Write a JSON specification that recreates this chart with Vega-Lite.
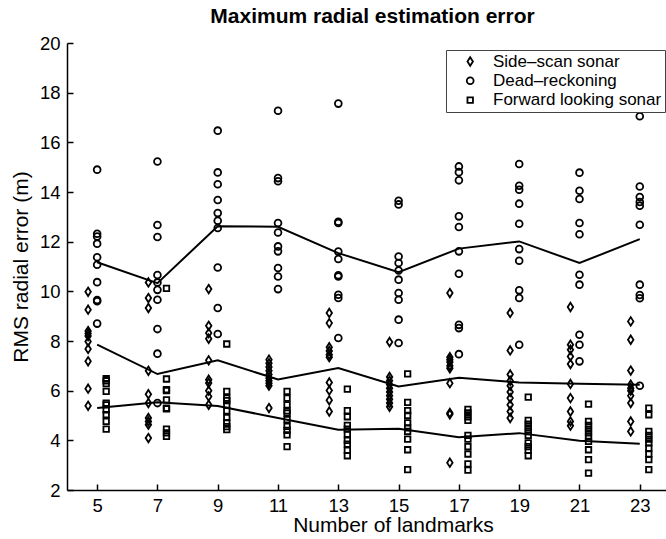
{
"$schema": "https://vega.github.io/schema/vega-lite/v6.json",
"width": 599, "height": 447,
"autosize": {"type": "none"},
"padding": {"left": 67, "top": 43, "right": 0, "bottom": 49},
"background": "white",
"config": {"view": {"stroke": null}, "font": "Liberation Sans"},
"title": {"text": "Maximum radial estimation error", "fontSize": 21, "fontWeight": "bold", "font": "Liberation Sans", "color": "black", "anchor": "middle", "offset": 7, "dx": 6},
"datasets": {
"pts": [
{"s":"SSS","x":4.7,"y":9.98},{"s":"SSS","x":4.7,"y":9.26},{"s":"SSS","x":4.7,"y":8.4},{"s":"SSS","x":4.7,"y":8.3},{"s":"SSS","x":4.7,"y":8.2},{"s":"SSS","x":4.7,"y":7.98},{"s":"SSS","x":4.7,"y":7.68},{"s":"SSS","x":4.7,"y":7.18},{"s":"SSS","x":4.7,"y":6.08},{"s":"SSS","x":4.7,"y":5.39},
{"s":"DR","x":5,"y":14.9},{"s":"DR","x":5,"y":12.32},{"s":"DR","x":5,"y":12.21},{"s":"DR","x":5,"y":11.92},{"s":"DR","x":5,"y":11.37},{"s":"DR","x":5,"y":11.07},{"s":"DR","x":5,"y":10.37},{"s":"DR","x":5,"y":9.65},{"s":"DR","x":5,"y":9.6},{"s":"DR","x":5,"y":8.7},
{"s":"FLS","x":5.3,"y":6.48},{"s":"FLS","x":5.3,"y":6.4},{"s":"FLS","x":5.3,"y":6.28},{"s":"FLS","x":5.3,"y":5.97},{"s":"FLS","x":5.3,"y":5.5},{"s":"FLS","x":5.3,"y":5.43},{"s":"FLS","x":5.3,"y":5.23},{"s":"FLS","x":5.3,"y":5.03},{"s":"FLS","x":5.3,"y":4.76},{"s":"FLS","x":5.3,"y":4.45},
{"s":"SSS","x":6.7,"y":10.36},{"s":"SSS","x":6.7,"y":9.73},{"s":"SSS","x":6.7,"y":9.33},{"s":"SSS","x":6.7,"y":6.8},{"s":"SSS","x":6.7,"y":5.86},{"s":"SSS","x":6.7,"y":5.5},{"s":"SSS","x":6.7,"y":4.9},{"s":"SSS","x":6.7,"y":4.76},{"s":"SSS","x":6.7,"y":4.63},{"s":"SSS","x":6.7,"y":4.09},
{"s":"DR","x":7,"y":15.23},{"s":"DR","x":7,"y":12.67},{"s":"DR","x":7,"y":12.19},{"s":"DR","x":7,"y":10.66},{"s":"DR","x":7,"y":10.36},{"s":"DR","x":7,"y":10.06},{"s":"DR","x":7,"y":9.66},{"s":"DR","x":7,"y":8.48},{"s":"DR","x":7,"y":7.49},{"s":"DR","x":7,"y":5.5},
{"s":"FLS","x":7.3,"y":10.12},{"s":"FLS","x":7.3,"y":6.47},{"s":"FLS","x":7.3,"y":6.04},{"s":"FLS","x":7.3,"y":6.0},{"s":"FLS","x":7.3,"y":5.63},{"s":"FLS","x":7.3,"y":5.3},{"s":"FLS","x":7.3,"y":5.27},{"s":"FLS","x":7.3,"y":4.45},{"s":"FLS","x":7.3,"y":4.3},{"s":"FLS","x":7.3,"y":4.16},
{"s":"SSS","x":8.7,"y":10.09},{"s":"SSS","x":8.7,"y":8.61},{"s":"SSS","x":8.7,"y":8.32},{"s":"SSS","x":8.7,"y":8.09},{"s":"SSS","x":8.7,"y":7.22},{"s":"SSS","x":8.7,"y":6.44},{"s":"SSS","x":8.7,"y":6.31},{"s":"SSS","x":8.7,"y":6.0},{"s":"SSS","x":8.7,"y":5.77},{"s":"SSS","x":8.7,"y":5.43},
{"s":"DR","x":9,"y":16.47},{"s":"DR","x":9,"y":14.79},{"s":"DR","x":9,"y":14.31},{"s":"DR","x":9,"y":13.68},{"s":"DR","x":9,"y":13.15},{"s":"DR","x":9,"y":12.84},{"s":"DR","x":9,"y":12.55},{"s":"DR","x":9,"y":10.96},{"s":"DR","x":9,"y":9.33},{"s":"DR","x":9,"y":8.28},
{"s":"FLS","x":9.3,"y":7.88},{"s":"FLS","x":9.3,"y":5.97},{"s":"FLS","x":9.3,"y":5.7},{"s":"FLS","x":9.3,"y":5.6},{"s":"FLS","x":9.3,"y":5.43},{"s":"FLS","x":9.3,"y":5.19},{"s":"FLS","x":9.3,"y":4.92},{"s":"FLS","x":9.3,"y":4.7},{"s":"FLS","x":9.3,"y":4.55},{"s":"FLS","x":9.3,"y":4.43},
{"s":"SSS","x":10.7,"y":7.25},{"s":"SSS","x":10.7,"y":7.1},{"s":"SSS","x":10.7,"y":6.95},{"s":"SSS","x":10.7,"y":6.8},{"s":"SSS","x":10.7,"y":6.65},{"s":"SSS","x":10.7,"y":6.5},{"s":"SSS","x":10.7,"y":6.4},{"s":"SSS","x":10.7,"y":6.3},{"s":"SSS","x":10.7,"y":6.2},{"s":"SSS","x":10.7,"y":5.3},
{"s":"DR","x":11,"y":17.27},{"s":"DR","x":11,"y":14.56},{"s":"DR","x":11,"y":14.43},{"s":"DR","x":11,"y":12.75},{"s":"DR","x":11,"y":12.37},{"s":"DR","x":11,"y":11.81},{"s":"DR","x":11,"y":11.61},{"s":"DR","x":11,"y":10.94},{"s":"DR","x":11,"y":10.6},{"s":"DR","x":11,"y":10.09},
{"s":"FLS","x":11.3,"y":5.97},{"s":"FLS","x":11.3,"y":5.7},{"s":"FLS","x":11.3,"y":5.43},{"s":"FLS","x":11.3,"y":5.19},{"s":"FLS","x":11.3,"y":5.1},{"s":"FLS","x":11.3,"y":4.83},{"s":"FLS","x":11.3,"y":4.56},{"s":"FLS","x":11.3,"y":4.4},{"s":"FLS","x":11.3,"y":4.22},{"s":"FLS","x":11.3,"y":3.75},
{"s":"SSS","x":12.7,"y":9.13},{"s":"SSS","x":12.7,"y":8.72},{"s":"SSS","x":12.7,"y":7.75},{"s":"SSS","x":12.7,"y":7.6},{"s":"SSS","x":12.7,"y":7.45},{"s":"SSS","x":12.7,"y":7.35},{"s":"SSS","x":12.7,"y":6.33},{"s":"SSS","x":12.7,"y":6.01},{"s":"SSS","x":12.7,"y":5.61},{"s":"SSS","x":12.7,"y":5.16},
{"s":"DR","x":13,"y":17.56},{"s":"DR","x":13,"y":12.8},{"s":"DR","x":13,"y":12.75},{"s":"DR","x":13,"y":11.6},{"s":"DR","x":13,"y":11.3},{"s":"DR","x":13,"y":10.65},{"s":"DR","x":13,"y":10.6},{"s":"DR","x":13,"y":9.86},{"s":"DR","x":13,"y":9.73},{"s":"DR","x":13,"y":8.12},
{"s":"FLS","x":13.3,"y":6.06},{"s":"FLS","x":13.3,"y":5.2},{"s":"FLS","x":13.3,"y":4.95},{"s":"FLS","x":13.3,"y":4.6},{"s":"FLS","x":13.3,"y":4.45},{"s":"FLS","x":13.3,"y":4.25},{"s":"FLS","x":13.3,"y":4.0},{"s":"FLS","x":13.3,"y":3.85},{"s":"FLS","x":13.3,"y":3.6},{"s":"FLS","x":13.3,"y":3.38},
{"s":"SSS","x":14.7,"y":7.96},{"s":"SSS","x":14.7,"y":6.55},{"s":"SSS","x":14.7,"y":6.4},{"s":"SSS","x":14.7,"y":6.25},{"s":"SSS","x":14.7,"y":6.1},{"s":"SSS","x":14.7,"y":5.95},{"s":"SSS","x":14.7,"y":5.8},{"s":"SSS","x":14.7,"y":5.65},{"s":"SSS","x":14.7,"y":5.5},{"s":"SSS","x":14.7,"y":5.35},
{"s":"DR","x":15,"y":13.65},{"s":"DR","x":15,"y":13.5},{"s":"DR","x":15,"y":11.4},{"s":"DR","x":15,"y":11.14},{"s":"DR","x":15,"y":10.84},{"s":"DR","x":15,"y":10.47},{"s":"DR","x":15,"y":9.93},{"s":"DR","x":15,"y":9.66},{"s":"DR","x":15,"y":8.86},{"s":"DR","x":15,"y":7.92},
{"s":"FLS","x":15.3,"y":6.68},{"s":"FLS","x":15.3,"y":5.53},{"s":"FLS","x":15.3,"y":5.2},{"s":"FLS","x":15.3,"y":5.0},{"s":"FLS","x":15.3,"y":4.7},{"s":"FLS","x":15.3,"y":4.5},{"s":"FLS","x":15.3,"y":4.36},{"s":"FLS","x":15.3,"y":4.05},{"s":"FLS","x":15.3,"y":3.62},{"s":"FLS","x":15.3,"y":2.82},
{"s":"SSS","x":16.7,"y":9.93},{"s":"SSS","x":16.7,"y":7.35},{"s":"SSS","x":16.7,"y":7.25},{"s":"SSS","x":16.7,"y":7.15},{"s":"SSS","x":16.7,"y":7.0},{"s":"SSS","x":16.7,"y":6.9},{"s":"SSS","x":16.7,"y":6.3},{"s":"SSS","x":16.7,"y":5.1},{"s":"SSS","x":16.7,"y":5.05},{"s":"SSS","x":16.7,"y":3.1},
{"s":"DR","x":17,"y":15.03},{"s":"DR","x":17,"y":14.8},{"s":"DR","x":17,"y":14.47},{"s":"DR","x":17,"y":13.02},{"s":"DR","x":17,"y":12.59},{"s":"DR","x":17,"y":11.61},{"s":"DR","x":17,"y":10.71},{"s":"DR","x":17,"y":8.65},{"s":"DR","x":17,"y":8.52},{"s":"DR","x":17,"y":7.47},
{"s":"FLS","x":17.3,"y":5.25},{"s":"FLS","x":17.3,"y":5.1},{"s":"FLS","x":17.3,"y":4.95},{"s":"FLS","x":17.3,"y":4.8},{"s":"FLS","x":17.3,"y":4.2},{"s":"FLS","x":17.3,"y":4.05},{"s":"FLS","x":17.3,"y":3.75},{"s":"FLS","x":17.3,"y":3.45},{"s":"FLS","x":17.3,"y":3.05},{"s":"FLS","x":17.3,"y":2.8},
{"s":"SSS","x":18.7,"y":9.13},{"s":"SSS","x":18.7,"y":7.62},{"s":"SSS","x":18.7,"y":6.65},{"s":"SSS","x":18.7,"y":6.4},{"s":"SSS","x":18.7,"y":6.2},{"s":"SSS","x":18.7,"y":5.95},{"s":"SSS","x":18.7,"y":5.7},{"s":"SSS","x":18.7,"y":5.43},{"s":"SSS","x":18.7,"y":5.16},{"s":"SSS","x":18.7,"y":4.9},
{"s":"DR","x":19,"y":15.13},{"s":"DR","x":19,"y":14.25},{"s":"DR","x":19,"y":14.09},{"s":"DR","x":19,"y":13.53},{"s":"DR","x":19,"y":12.72},{"s":"DR","x":19,"y":11.7},{"s":"DR","x":19,"y":11.23},{"s":"DR","x":19,"y":10.04},{"s":"DR","x":19,"y":9.73},{"s":"DR","x":19,"y":7.85},
{"s":"FLS","x":19.3,"y":5.74},{"s":"FLS","x":19.3,"y":4.8},{"s":"FLS","x":19.3,"y":4.65},{"s":"FLS","x":19.3,"y":4.5},{"s":"FLS","x":19.3,"y":4.35},{"s":"FLS","x":19.3,"y":4.2},{"s":"FLS","x":19.3,"y":3.9},{"s":"FLS","x":19.3,"y":3.75},{"s":"FLS","x":19.3,"y":3.6},{"s":"FLS","x":19.3,"y":3.38},
{"s":"SSS","x":20.7,"y":9.37},{"s":"SSS","x":20.7,"y":7.85},{"s":"SSS","x":20.7,"y":7.65},{"s":"SSS","x":20.7,"y":7.38},{"s":"SSS","x":20.7,"y":7.07},{"s":"SSS","x":20.7,"y":6.27},{"s":"SSS","x":20.7,"y":5.7},{"s":"SSS","x":20.7,"y":5.16},{"s":"SSS","x":20.7,"y":4.76},{"s":"SSS","x":20.7,"y":4.59},
{"s":"DR","x":21,"y":14.78},{"s":"DR","x":21,"y":14.05},{"s":"DR","x":21,"y":13.72},{"s":"DR","x":21,"y":12.75},{"s":"DR","x":21,"y":12.3},{"s":"DR","x":21,"y":10.67},{"s":"DR","x":21,"y":10.27},{"s":"DR","x":21,"y":8.25},{"s":"DR","x":21,"y":7.85},{"s":"DR","x":21,"y":7.18},
{"s":"FLS","x":21.3,"y":5.46},{"s":"FLS","x":21.3,"y":4.76},{"s":"FLS","x":21.3,"y":4.6},{"s":"FLS","x":21.3,"y":4.45},{"s":"FLS","x":21.3,"y":4.3},{"s":"FLS","x":21.3,"y":4.15},{"s":"FLS","x":21.3,"y":3.96},{"s":"FLS","x":21.3,"y":3.62},{"s":"FLS","x":21.3,"y":3.22},{"s":"FLS","x":21.3,"y":2.68},
{"s":"SSS","x":22.7,"y":8.79},{"s":"SSS","x":22.7,"y":8.05},{"s":"SSS","x":22.7,"y":6.81},{"s":"SSS","x":22.7,"y":6.24},{"s":"SSS","x":22.7,"y":6.1},{"s":"SSS","x":22.7,"y":6.0},{"s":"SSS","x":22.7,"y":5.8},{"s":"SSS","x":22.7,"y":5.5},{"s":"SSS","x":22.7,"y":4.76},{"s":"SSS","x":22.7,"y":4.36},
{"s":"DR","x":23,"y":17.05},{"s":"DR","x":23,"y":14.22},{"s":"DR","x":23,"y":13.8},{"s":"DR","x":23,"y":13.6},{"s":"DR","x":23,"y":13.45},{"s":"DR","x":23,"y":12.68},{"s":"DR","x":23,"y":10.27},{"s":"DR","x":23,"y":9.85},{"s":"DR","x":23,"y":9.72},{"s":"DR","x":23,"y":6.2},
{"s":"FLS","x":23.3,"y":5.3},{"s":"FLS","x":23.3,"y":5.03},{"s":"FLS","x":23.3,"y":4.36},{"s":"FLS","x":23.3,"y":4.2},{"s":"FLS","x":23.3,"y":4.05},{"s":"FLS","x":23.3,"y":3.9},{"s":"FLS","x":23.3,"y":3.69},{"s":"FLS","x":23.3,"y":3.45},{"s":"FLS","x":23.3,"y":3.22},{"s":"FLS","x":23.3,"y":2.82}
],
"means": [
{"s":"DR","x":5,"y":11.17},{"s":"DR","x":7,"y":10.33},{"s":"DR","x":9,"y":12.62},{"s":"DR","x":11,"y":12.6},{"s":"DR","x":13,"y":11.54},{"s":"DR","x":15,"y":10.77},{"s":"DR","x":17,"y":11.72},{"s":"DR","x":19,"y":12.01},{"s":"DR","x":21,"y":11.14},{"s":"DR","x":23,"y":12.1},
{"s":"SSS","x":5,"y":7.85},{"s":"SSS","x":7,"y":6.67},{"s":"SSS","x":9,"y":7.22},{"s":"SSS","x":11,"y":6.45},{"s":"SSS","x":13,"y":6.91},{"s":"SSS","x":15,"y":6.17},{"s":"SSS","x":17,"y":6.52},{"s":"SSS","x":19,"y":6.33},{"s":"SSS","x":21,"y":6.28},{"s":"SSS","x":23,"y":6.24},
{"s":"FLS","x":5,"y":5.3},{"s":"FLS","x":7,"y":5.53},{"s":"FLS","x":9,"y":5.38},{"s":"FLS","x":11,"y":4.9},{"s":"FLS","x":13,"y":4.43},{"s":"FLS","x":15,"y":4.47},{"s":"FLS","x":17,"y":4.12},{"s":"FLS","x":19,"y":4.29},{"s":"FLS","x":21,"y":3.98},{"s":"FLS","x":23,"y":3.86}
]
},
"layer": [
{
"data": {"name": "pts"},
"mark": {"type": "point", "filled": false, "stroke": "black", "strokeWidth": 1.8, "size": 100, "opacity": 1},
"encoding": {
"x": {"field": "x", "type": "quantitative", "scale": {"domain": [4, 23.87], "nice": false, "zero": false},
 "axis": {"values": [5,7,9,11,13,15,17,19,21,23], "title": "Number of landmarks", "grid": false, "tickSize": -6, "labelPadding": 12, "domainColor": "black", "tickColor": "black", "labelColor": "black", "titleColor": "black", "labelFontSize": 18.5, "titleFontSize": 21, "titleFontWeight": "normal", "domainWidth": 1.5, "tickWidth": 1.5, "titlePadding": 0, "titleX": 326, "labelFont": "Liberation Sans", "titleFont": "Liberation Sans"}},
"y": {"field": "y", "type": "quantitative", "scale": {"domain": [2, 20], "nice": false, "zero": false},
 "axis": {"values": [2,4,6,8,10,12,14,16,18,20], "title": "RMS radial error (m)", "grid": false, "tickSize": -6, "labelPadding": 13, "domainColor": "black", "tickColor": "black", "labelColor": "black", "titleColor": "black", "labelFontSize": 18.5, "titleFontSize": 21, "titleFontWeight": "normal", "domainWidth": 1.5, "tickWidth": 1.5, "titlePadding": 8, "labelFont": "Liberation Sans", "titleFont": "Liberation Sans"}},
"shape": {"field": "s", "type": "nominal",
 "scale": {"domain": ["SSS", "DR", "FLS"], "range": ["M0,-0.85L0.55,0L0,0.85L-0.55,0Z", "M0.68,0A0.68,0.68 0 1,1 -0.68,0A0.68,0.68 0 1,1 0.68,0Z", "M-0.55,-0.55H0.55V0.55H-0.55Z"]},
 "legend": {"title": null, "orient": "none", "legendX": 379, "legendY": 7, "direction": "vertical", "padding": 3, "symbolOffset": 12.7, "labelOffset": 14.3, "labelFontSize": 17, "labelLimit": 400, "labelFont": "Liberation Sans", "labelColor": "black", "rowPadding": 1.3, "strokeColor": "#444", "fillColor": "white", "symbolStrokeColor": "black", "symbolStrokeWidth": 1.8, "symbolFillColor": "transparent", "symbolSize": 100,
  "labelExpr": "{'SSS': 'Side–scan sonar', 'DR': 'Dead–reckoning', 'FLS': 'Forward looking sonar'}[datum.label]"}}
}
},
{
"data": {"name": "means"},
"mark": {"type": "line", "color": "black", "strokeWidth": 2},
"encoding": {
"x": {"field": "x", "type": "quantitative"},
"y": {"field": "y", "type": "quantitative"},
"detail": {"field": "s", "type": "nominal"}
}
}
]
}
